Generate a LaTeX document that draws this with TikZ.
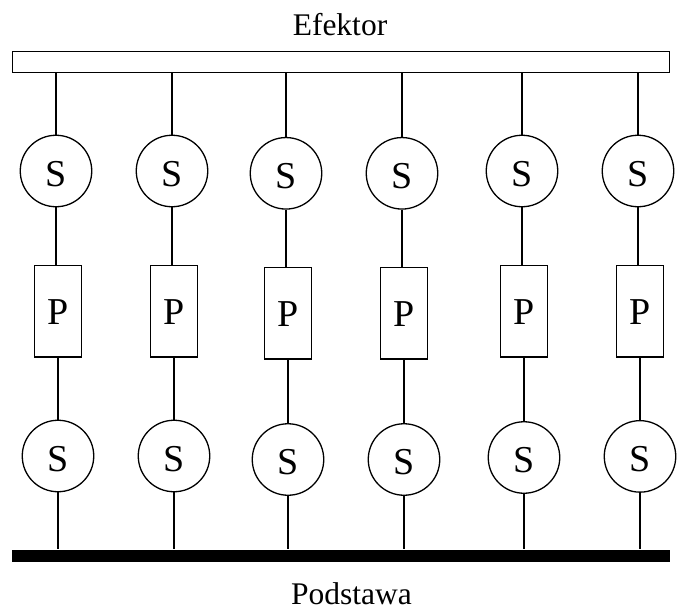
\documentclass[tikz,border=0pt]{standalone}
\usepackage{fontspec}
\setmainfont{Liberation Serif}
\begin{document}
\begin{tikzpicture}[x=1pt,y=-1pt,line width=1.3pt,
  sphere/.style={circle,draw,inner sep=0pt,minimum size=71.5pt,
    font=\fontsize{38}{38}\selectfont,text height=30pt,text depth=0pt},
  prism/.style={rectangle,draw,inner sep=0pt,minimum width=47.3pt,minimum height=91.4pt,
    font=\fontsize{38}{38}\selectfont,text height=27pt,text depth=0pt},
  caption/.style={font=\fontsize{31.5}{31.5}\selectfont,inner sep=0pt,anchor=base},
  link/.style={line width=1.3pt}]
\useasboundingbox (0,0) rectangle (682,610);

% effector plate and fixed base
\node[rectangle,draw,inner sep=0pt,minimum width=656.8pt,minimum height=20.8pt] (eff) at (341,62) {};
\node[rectangle,fill=black,draw=none,inner sep=0pt,minimum width=658pt,minimum height=12pt] (base) at (341,555.5) {};
\node[caption] (efl) at (340,36) {Efektor};
\node[caption] (bsl) at (351.5,604.3) {Podstawa};

% six legs: spherical joint - prismatic joint - spherical joint
\foreach \i/\xt/\xp/\xb/\yt/\yp/\yb in {
  1/56/58/58/171/311.3/456,
  2/172/174/174/171/311.3/456,
  3/286/288/288/173.3/313.3/459.5,
  4/402/404/404/173.3/313.3/459.5,
  5/522/524/524/171/311.3/457.5,
  6/638/640/640/171/311.3/456.4}{
  \node[sphere] (sT\i) at (\xt,\yt) {S};
  \node[prism]  (P\i)  at (\xp,\yp) {P};
  \node[sphere] (sB\i) at (\xb,\yb) {S};
  \draw[link] (sT\i.north) -- (sT\i.north |- eff.south);
  \draw[link] (sT\i.south) -- (sT\i.south |- P\i.north);
  \draw[link] (P\i.south) -- (P\i.south |- sB\i.north);
  \draw[link] (sB\i.south) -- (sB\i.south |- base.north);
}
\end{tikzpicture}
\end{document}
